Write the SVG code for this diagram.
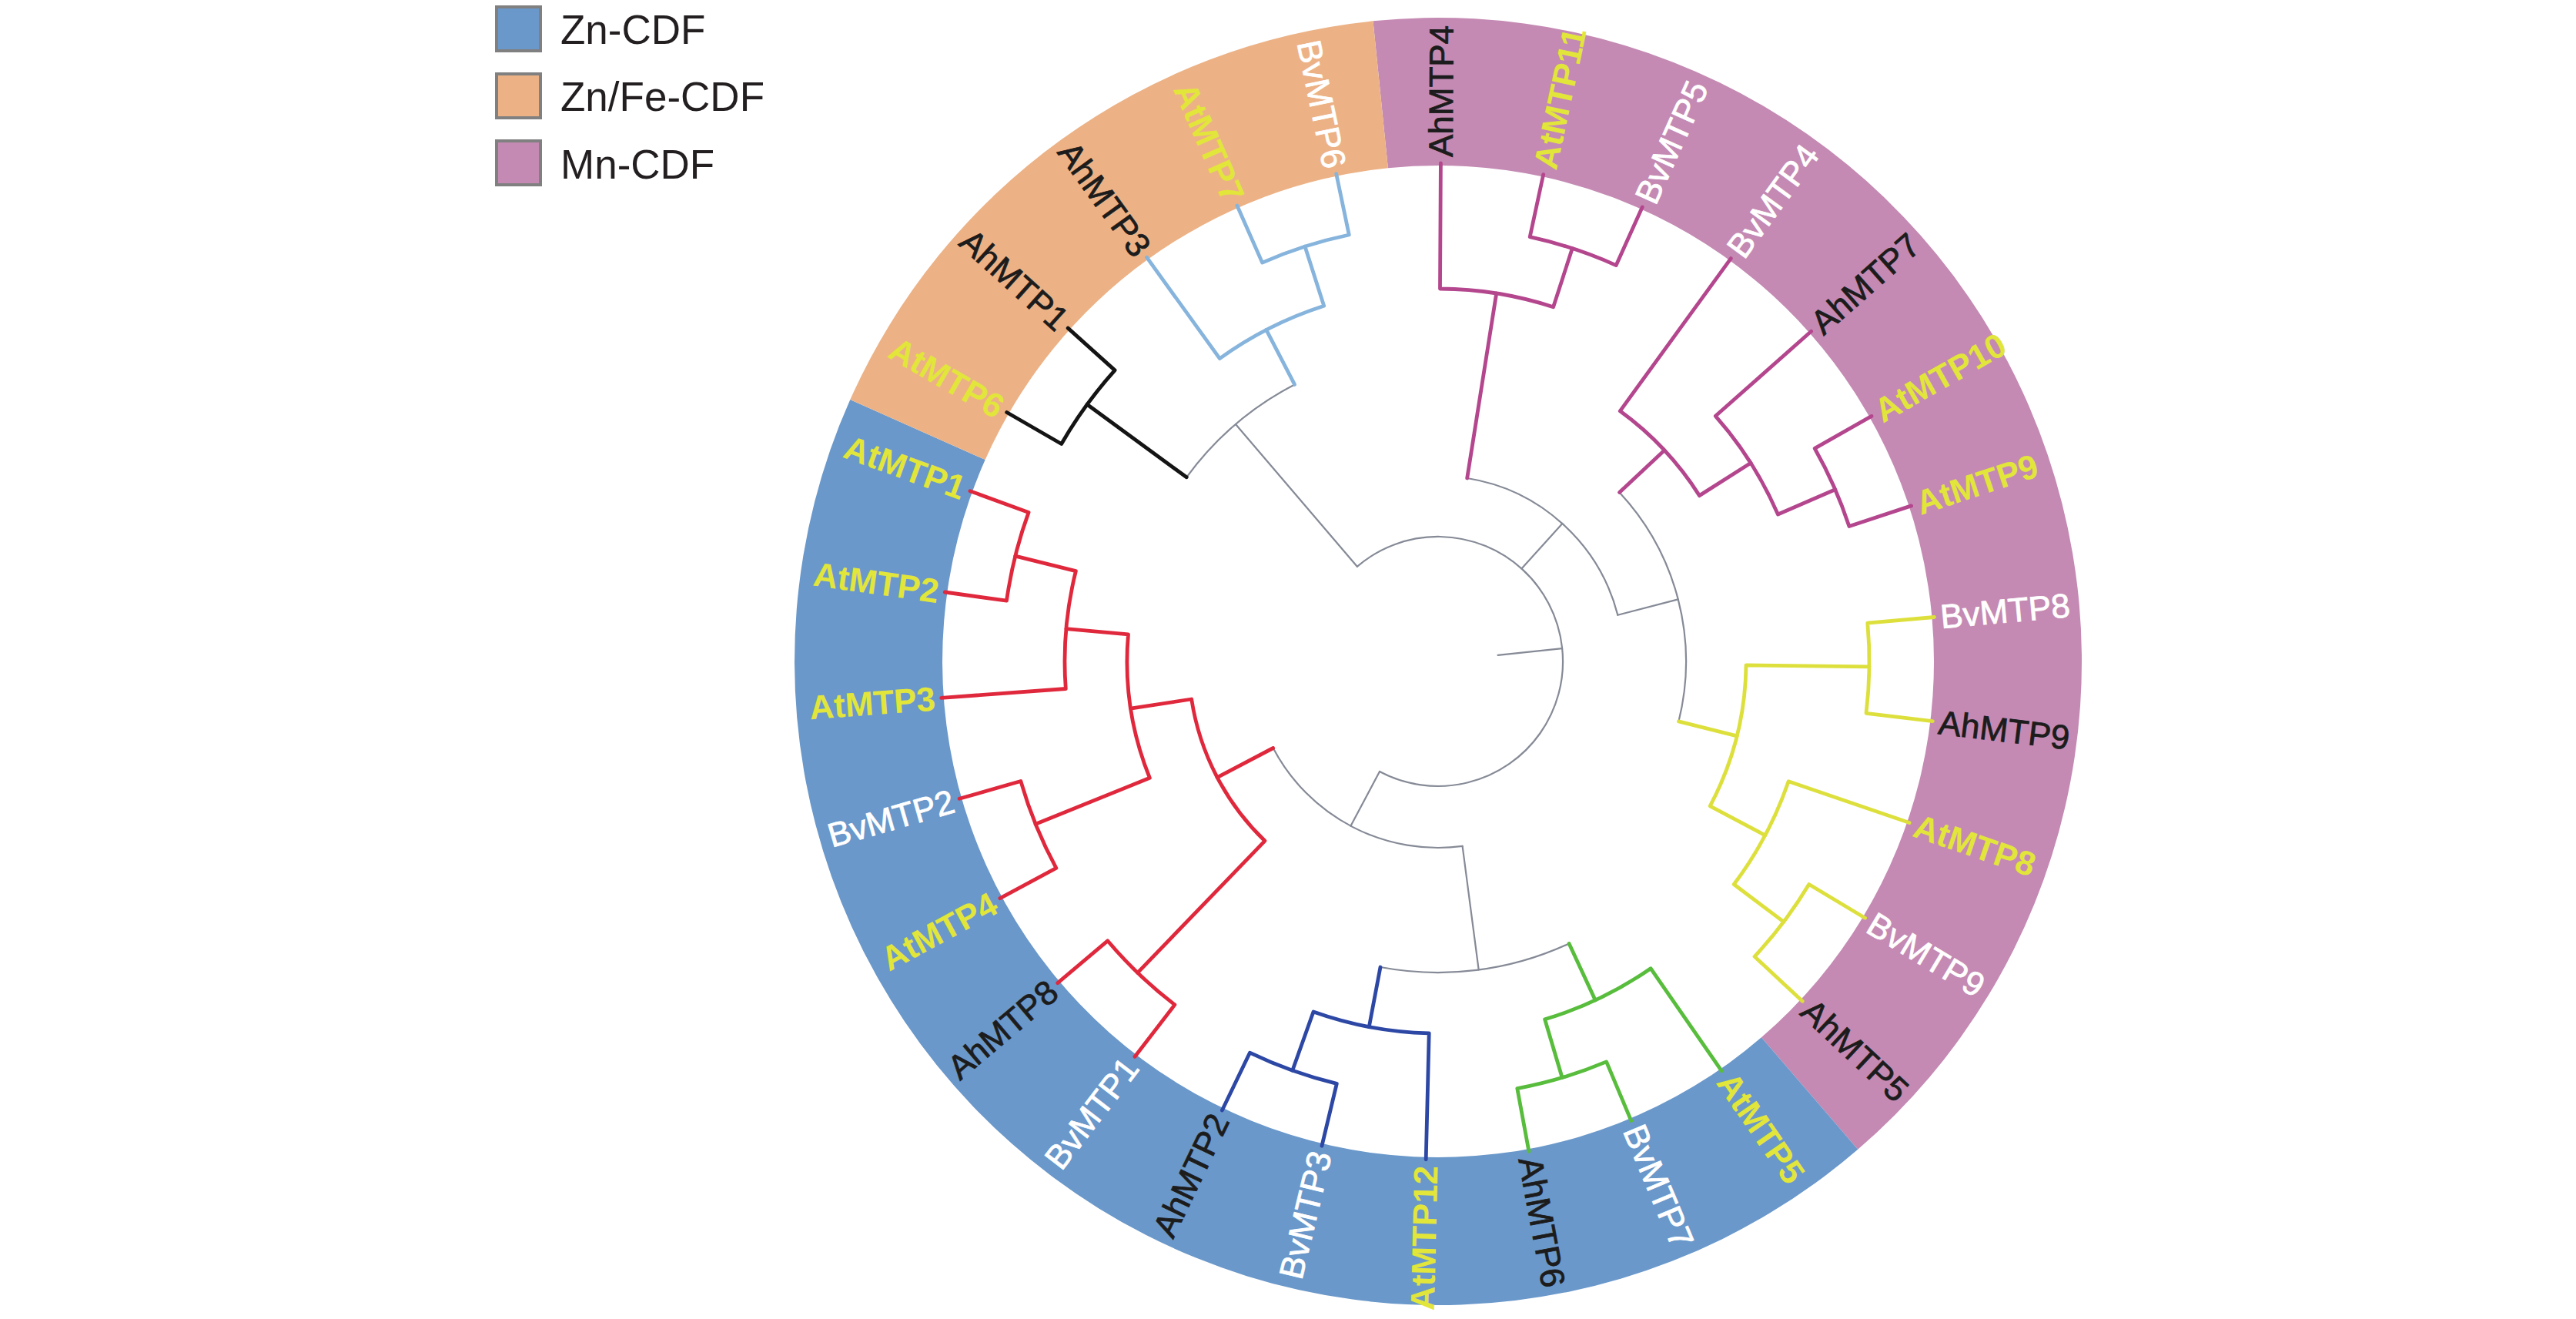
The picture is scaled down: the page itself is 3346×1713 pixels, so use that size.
<svg xmlns="http://www.w3.org/2000/svg" width="3346" height="1713" viewBox="0 0 3346 1713">
<style>
.lbl{font-family:"Liberation Sans",Arial,sans-serif;font-size:44px}
.ah{fill:#1c1c1c;stroke:#1c1c1c;stroke-width:0.8}
.bv{fill:#ffffff;stroke:#ffffff;stroke-width:0.8}
.at{fill:#e2e53a;font-weight:bold}
.leg{font-family:"Liberation Sans",Arial,sans-serif;font-size:53px;fill:#231f20}
.br{fill:none;stroke-linecap:round;stroke-linejoin:round}
.g{stroke:#858a96;stroke-width:2.2}
.k{stroke:#141414;stroke-width:4.8}
.lb{stroke:#86b4dc;stroke-width:4.8}
.pk{stroke:#b4468e;stroke-width:4.8}
.yl{stroke:#dde03c;stroke-width:4.8}
.db{stroke:#2d47a5;stroke-width:4.8}
.gr{stroke:#58bd3c;stroke-width:4.8}
.rd{stroke:#e0283c;stroke-width:4.8}
.sq{stroke:#808080;stroke-width:4}
</style>
<rect width="3346" height="1713" fill="#ffffff"/>
<g id="legend">
<rect class="sq" x="645" y="9" width="57" height="57" fill="#6a98ca"/>
<rect class="sq" x="645" y="96" width="57" height="57" fill="#ecb286"/>
<rect class="sq" x="645" y="183" width="57" height="57" fill="#c48ab3"/>
<text class="leg" x="728" y="57">Zn-CDF</text>
<text class="leg" x="728" y="144">Zn/Fe-CDF</text>
<text class="leg" x="728" y="232">Mn-CDF</text>
</g>
<g id="clade-bands">
<path id="band-Mn" fill="#c48ab3" d="M1783.5,27.3 A836,836 0 0 1 2413.2,1492.8 L2287.9,1347.3 A644,644 0 0 0 1802.9,218.3 Z"/>
<path id="band-Zn" fill="#6a98ca" d="M2413.2,1492.8 A836,836 0 0 1 1104.3,519.0 L1279.7,597.1 A644,644 0 0 0 2287.9,1347.3 Z"/>
<path id="band-ZnFe" fill="#ecb286" d="M1104.3,519.0 A836,836 0 0 1 1783.5,27.3 L1802.9,218.3 A644,644 0 0 0 1279.7,597.1 Z"/>
</g>
<g id="connectors" class="br">
<g class="br g">
<path d="M1762.8,735.8 A162,162 0 1 1 1792.0,1002.0"/>
<path d="M1945.6,850.9 L2029.1,842.1"/>
<path d="M1762.8,735.8 L1605.0,551.0"/>
<path d="M1541.2,619.8 A405,405 0 0 1 1681.6,499.4"/>
<path d="M1976.4,738.6 L2029.3,679.9"/>
<path d="M1905.7,621.0 A241,241 0 0 1 2101.3,798.7"/>
<path d="M2101.3,798.7 L2179.7,778.4"/>
<path d="M2103.5,639.4 A322,322 0 0 1 2180.4,936.9"/>
<path d="M1792.0,1002.0 L1754.4,1072.7"/>
<path d="M1899.6,1098.9 A242,242 0 0 1 1653.7,971.5"/>
<path d="M1899.6,1098.9 L1920.7,1259.5"/>
<path d="M2038.1,1225.4 A404,404 0 0 1 1793.0,1256.0"/>
</g>
<g class="br k">
<path d="M1541.2,619.8 L1412.1,525.3"/>
<path d="M1307.7,535.5 L1378.7,576.5 A565,565 0 0 1 1448.1,480.9 L1387.2,426.1"/>
</g>
<g class="br lb">
<path d="M1681.6,499.4 L1644.8,428.4"/>
<path d="M1489.5,334.2 L1584.3,465.6 A485,485 0 0 1 1719.7,397.2 L1695.0,320.1"/>
<path d="M1606.9,267.0 L1639.6,341.1 A566,566 0 0 1 1752.3,305.0 L1735.7,225.7"/>
</g>
<g class="br pk">
<path d="M1905.7,621.0 L1943.7,381.0"/>
<path d="M1871.4,212.0 L1870.5,375.0 A484,484 0 0 1 2017.6,398.7 L2042.3,322.6"/>
<path d="M2004.7,226.6 L1987.2,307.7 A564,564 0 0 1 2099.2,344.6 L2133.2,268.9"/>
<path d="M2103.5,639.4 L2162.0,584.8"/>
<path d="M2248.3,335.6 L2104.3,533.8 A402,402 0 0 1 2207.4,643.6 L2274.1,601.3"/>
<path d="M2352.6,430.3 L2228.3,540.3 A481,481 0 0 1 2309.4,668.0 L2383.8,635.8"/>
<path d="M2431.1,540.4 L2357.1,582.3 A562,562 0 0 1 2401.9,683.5 L2482.6,656.9"/>
</g>
<g class="br yl">
<path d="M2180.4,936.9 L2256.1,955.8"/>
<path d="M2428.0,865.8 L2268.0,863.9 A400,400 0 0 1 2221.2,1046.8 L2292.7,1084.8"/>
<path d="M2512.4,801.5 L2425.8,809.2 A560,560 0 0 1 2424.0,926.3 L2510.3,936.7"/>
<path d="M2480.1,1068.6 L2323.1,1014.8 A481,481 0 0 1 2252.2,1148.5 L2316.8,1197.2"/>
<path d="M2422.6,1192.2 L2349.7,1148.5 A562,562 0 0 1 2279.0,1242.3 L2341.2,1300.3"/>
</g>
<g class="br db">
<path d="M1793.0,1256.0 L1778.3,1333.6"/>
<path d="M1852.2,1505.8 L1856.2,1341.9 A483,483 0 0 1 1706.0,1314.0 L1678.8,1390.3"/>
<path d="M1717.0,1488.1 L1736.3,1407.4 A564,564 0 0 1 1623.4,1367.2 L1587.4,1442.0"/>
</g>
<g class="br gr">
<path d="M2038.1,1225.4 L2072.2,1298.9"/>
<path d="M2236.3,1390.9 L2144.1,1257.7 A485,485 0 0 1 2006.6,1323.8 L2029.1,1399.5"/>
<path d="M2118.7,1455.4 L2086.6,1378.9 A564,564 0 0 1 1970.8,1413.6 L1985.9,1495.2"/>
</g>
<g class="br rd">
<path d="M1653.7,971.5 L1581.1,1009.6"/>
<path d="M1477.6,1263.3 L1642.9,1092.1 A324,324 0 0 1 1547.7,908.0 L1468.6,920.1"/>
<path d="M1474.1,1372.3 L1525.9,1304.9 A562,562 0 0 1 1438.7,1221.8 L1373.8,1276.6"/>
<path d="M1345.1,1070.3 L1493.4,1010.3 A404,404 0 0 1 1465.5,823.8 L1384.9,816.7"/>
<path d="M1298.9,1166.7 L1371.9,1127.3 A564,564 0 0 1 1325.9,1014.5 L1246.1,1037.3"/>
<path d="M1222.7,906.4 L1384.3,894.5 A485,485 0 0 1 1397.4,741.7 L1318.8,722.1"/>
<path d="M1227.3,769.0 L1307.5,780.2 A566,566 0 0 1 1336.1,665.4 L1260.0,637.7"/>
</g>
</g>
<g id="leaves" class="lbl">
<g id="AhMTP4"><text class="ah" dy="0.35em" transform="translate(1871.4,204.0) rotate(-89.7)">AhMTP4</text></g>
<g id="AtMTP11"><text class="at" dy="0.35em" transform="translate(2006.4,218.8) rotate(-77.8)">AtMTP11</text></g>
<g id="BvMTP5"><text class="bv" dy="0.35em" transform="translate(2136.5,261.6) rotate(-65.8)">BvMTP5</text></g>
<g id="BvMTP4"><text class="bv" dy="0.35em" transform="translate(2253.0,329.1) rotate(-54)">BvMTP4</text></g>
<g id="AhMTP7"><text class="ah" dy="0.35em" transform="translate(2358.6,425.0) rotate(-41.5)">AhMTP7</text></g>
<g id="AtMTP10"><text class="at" dy="0.35em" transform="translate(2438.1,536.5) rotate(-29.5)">AtMTP10</text></g>
<g id="AtMTP9"><text class="at" dy="0.35em" transform="translate(2490.2,654.4) rotate(-18.2)">AtMTP9</text></g>
<g id="BvMTP8"><text class="bv" dy="0.35em" transform="translate(2520.4,800.8) rotate(-5.1)">BvMTP8</text></g>
<g id="AhMTP9"><text class="ah" dy="0.35em" transform="translate(2518.3,937.7) rotate(6.9)">AhMTP9</text></g>
<g id="AtMTP8"><text class="at" dy="0.35em" transform="translate(2487.7,1071.2) rotate(18.9)">AtMTP8</text></g>
<g id="BvMTP9"><text class="bv" dy="0.35em" transform="translate(2429.5,1196.4) rotate(31)">BvMTP9</text></g>
<g id="AhMTP5"><text class="ah" dy="0.35em" transform="translate(2347.0,1305.7) rotate(43)">AhMTP5</text></g>
<g id="AtMTP5"><text class="at" dy="0.35em" transform="translate(2240.9,1397.5) rotate(55.3)">AtMTP5</text></g>
<g id="BvMTP7"><text class="bv" dy="0.35em" transform="translate(2121.8,1462.8) rotate(67.2)">BvMTP7</text></g>
<g id="AhMTP6"><text class="ah" dy="0.35em" transform="translate(1987.4,1503.0) rotate(79.5)">AhMTP6</text></g>
<g id="AtMTP12"><text class="at" dy="0.35em" text-anchor="end" transform="translate(1852.0,1513.8) rotate(-88.6)">AtMTP12</text></g>
<g id="BvMTP3"><text class="bv" dy="0.35em" text-anchor="end" transform="translate(1715.1,1495.9) rotate(-76.5)">BvMTP3</text></g>
<g id="AhMTP2"><text class="ah" dy="0.35em" text-anchor="end" transform="translate(1584.0,1449.2) rotate(-64.3)">AhMTP2</text></g>
<g id="BvMTP1"><text class="bv" dy="0.35em" text-anchor="end" transform="translate(1469.3,1378.6) rotate(-52.5)">BvMTP1</text></g>
<g id="AhMTP8"><text class="ah" dy="0.35em" text-anchor="end" transform="translate(1367.7,1281.8) rotate(-40.2)">AhMTP8</text></g>
<g id="AtMTP4"><text class="at" dy="0.35em" text-anchor="end" transform="translate(1291.8,1170.5) rotate(-28.4)">AtMTP4</text></g>
<g id="BvMTP2"><text class="bv" dy="0.35em" text-anchor="end" transform="translate(1238.4,1039.5) rotate(-16)">BvMTP2</text></g>
<g id="AtMTP3"><text class="at" dy="0.35em" text-anchor="end" transform="translate(1214.8,907.0) rotate(-4.2)">AtMTP3</text></g>
<g id="AtMTP2"><text class="at" dy="0.35em" text-anchor="end" transform="translate(1219.4,767.8) rotate(8)">AtMTP2</text></g>
<g id="AtMTP1"><text class="at" dy="0.35em" text-anchor="end" transform="translate(1252.5,635.0) rotate(20)">AtMTP1</text></g>
<g id="AtMTP6"><text class="at" dy="0.35em" text-anchor="end" transform="translate(1300.7,531.5) rotate(30)">AtMTP6</text></g>
<g id="AhMTP1"><text class="ah" dy="0.35em" text-anchor="end" transform="translate(1381.2,420.7) rotate(42)">AhMTP1</text></g>
<g id="AhMTP3"><text class="ah" dy="0.35em" text-anchor="end" transform="translate(1484.9,327.8) rotate(54.2)">AhMTP3</text></g>
<g id="AtMTP7"><text class="at" dy="0.35em" text-anchor="end" transform="translate(1603.7,259.7) rotate(66.2)">AtMTP7</text></g>
<g id="BvMTP6"><text class="bv" dy="0.35em" text-anchor="end" transform="translate(1734.1,217.8) rotate(78.2)">BvMTP6</text></g>
</g>
</svg>
